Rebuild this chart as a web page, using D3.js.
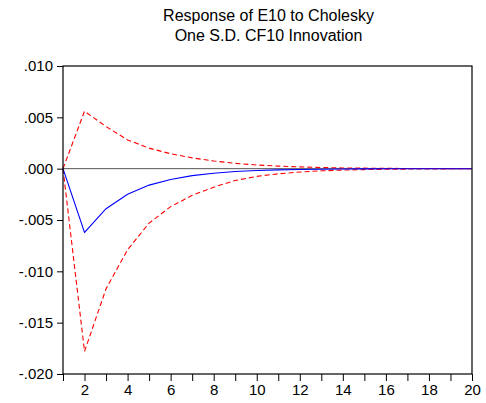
<!DOCTYPE html>
<html>
<head>
<meta charset="utf-8">
<script src="https://cdn.jsdelivr.net/npm/d3@7"></script>
<style>
  body { margin: 0; background: #fff; }
  text { font-family: "Liberation Sans", Arial, sans-serif; }
</style>
</head>
<body>
<div id="main"></div>
<script>
// Datos (respuesta al impulso con bandas de +-2 S.E.)
var periods = [1, 2, 3, 4, 5, 6, 7, 8, 9, 10, 11, 12, 13, 14, 15, 16, 17, 18, 19, 20];
var response = [0, -0.0062, -0.0039, -0.0025, -0.0016, -0.00105, -0.00068, -0.00044, -0.00028, -0.00018,
  -0.00012, -0.00008, -0.00005, -0.00003, -0.00002, -0.000013, -0.000008, -0.000005, -0.000003, -0.000002];
var upper = [0, 0.0056, 0.0041, 0.0028, 0.0020, 0.00145, 0.00105, 0.00075, 0.00052, 0.00036,
  0.00025, 0.00017, 0.00011, 0.00007, 0.00005, 0.00003, 0.00002, 0.000012, 0.000008, 0.000005];
var lower = [0, -0.0178, -0.0117, -0.0079, -0.0053, -0.0037, -0.0026, -0.0018, -0.00115, -0.00075,
  -0.0005, -0.00033, -0.00021, -0.00014, -0.00009, -0.00006, -0.00004, -0.000025, -0.000015, -0.00001];
var yTicks = [0.010, 0.005, 0.000, -0.005, -0.010, -0.015, -0.020];
var xLabels = [2, 4, 6, 8, 10, 12, 14, 16, 18, 20];
var titleLines = ["Response of E10 to Cholesky", "One S.D. CF10 Innovation"];

var totalWidth = 486, totalHeight = 403;
var plotLeft = 63, plotRight = 472, plotTop = 66, plotBottom = 374;

var svg = d3.select("#main").append("svg")
  .attr("width", totalWidth)
  .attr("height", totalHeight);

var x = d3.scaleLinear().domain([1, 20]).range([plotLeft, plotRight]);
var y = d3.scaleLinear().domain([-0.020, 0.010]).range([plotBottom, plotTop]);

// Título
svg.selectAll("text.title").data(titleLines).enter().append("text")
  .attr("class", "title")
  .attr("x", (plotLeft + plotRight) / 2 + 1)
  .attr("y", function(d, i) { return 21 + i * 20; })
  .attr("text-anchor", "middle")
  .attr("font-size", 16)
  .attr("fill", "#000")
  .text(function(d) { return d; });

// Línea de cero
svg.append("line")
  .attr("x1", plotLeft).attr("x2", plotRight)
  .attr("y1", y(0)).attr("y2", y(0))
  .attr("stroke", "#555").attr("stroke-width", 1);

var line = d3.line()
  .x(function(d, i) { return x(periods[i]); })
  .y(function(d) { return y(d); });

svg.append("path").attr("d", line(upper))
  .attr("fill", "none").attr("stroke", "#ff0000").attr("stroke-width", 1.1)
  .attr("stroke-dasharray", "5,3");
svg.append("path").attr("d", line(lower))
  .attr("fill", "none").attr("stroke", "#ff0000").attr("stroke-width", 1.1)
  .attr("stroke-dasharray", "5,3");
svg.append("path").attr("d", line(response))
  .attr("fill", "none").attr("stroke", "#0000ff").attr("stroke-width", 1.1);

// Marco
svg.append("rect")
  .attr("x", plotLeft).attr("y", plotTop)
  .attr("width", plotRight - plotLeft).attr("height", plotBottom - plotTop)
  .attr("fill", "none").attr("stroke", "#000").attr("stroke-width", 1.2);

// Eje Y
var yAxis = svg.append("g")
  .attr("transform", "translate(" + plotLeft + ",0)")
  .call(d3.axisLeft(y).tickValues(yTicks).tickSize(6).tickPadding(4)
    .tickFormat(function(d) { return d3.format(".3f")(d).replace("\u2212", "-").replace("0.", "."); }));
yAxis.select(".domain").remove();
yAxis.selectAll("text").attr("font-size", 15).attr("font-family", "Liberation Sans, Arial, sans-serif").attr("fill", "#000");
yAxis.selectAll("line").attr("stroke", "#000");

// Eje X
var xAxis = svg.append("g")
  .attr("transform", "translate(0," + plotBottom + ")")
  .call(d3.axisBottom(x).tickValues(periods).tickSize(7).tickPadding(3)
    .tickFormat(function(d) { return xLabels.indexOf(d) >= 0 ? d : ""; }));
xAxis.select(".domain").remove();
xAxis.selectAll("text").attr("font-size", 15).attr("font-family", "Liberation Sans, Arial, sans-serif").attr("fill", "#000");
xAxis.selectAll("line").attr("stroke", "#000");
</script>
</body>
</html>
